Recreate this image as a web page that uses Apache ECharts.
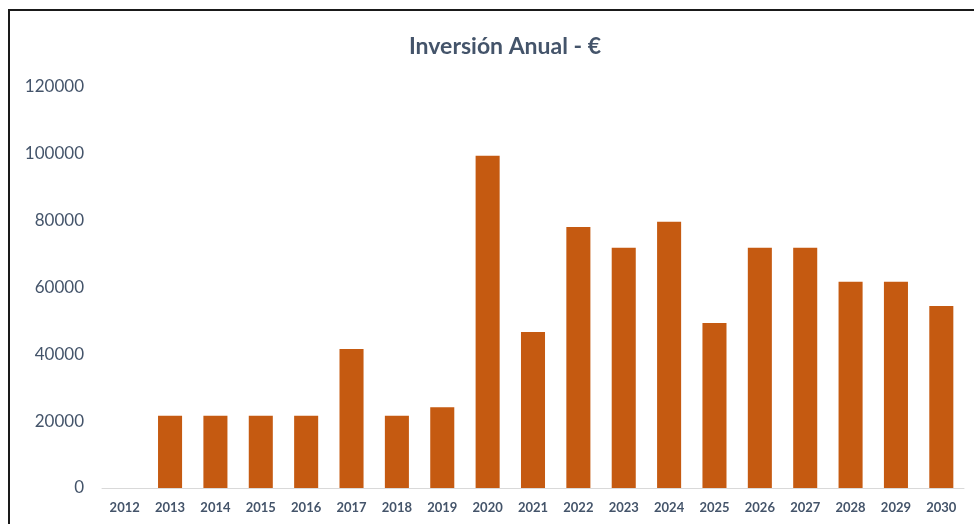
<!DOCTYPE html>
<html>
<head>
<meta charset="utf-8">
<script src="https://cdn.jsdelivr.net/npm/echarts@6/dist/echarts.min.js"></script>
<style>
  html, body { margin: 0; padding: 0; background: #fff; }
  #chart { width: 974px; height: 524px; }
</style>
</head>
<body>
<div id="chart"></div>
<script>
const years = ['2012', '2013', '2014', '2015', '2016', '2017', '2018', '2019', '2020', '2021',
  '2022', '2023', '2024', '2025', '2026', '2027', '2028', '2029', '2030']
const investment = [0, 21600, 21600, 21600, 21600, 41600, 21600, 24200, 99400, 46700,
  78100, 71900, 79700, 49400, 71900, 71900, 61700, 61700, 54500]
const yTicks = { min: 0, max: 120000, interval: 20000 }

const textColor = '#44546A'
const font = 'Lato, "Open Sans", sans-serif'

const chart = echarts.init(document.getElementById('chart'))

chart.setOption({
  animation: false,
  title: {
    text: 'Inversión Anual - €',
    left: 500,
    top: 30,
    textAlign: 'center',
    textStyle: { fontSize: 23, fontWeight: 'bold', color: textColor, fontFamily: font },
  },
  graphic: [
    {
      type: 'polyline',
      shape: { points: [[9, 524], [9, 10], [974, 10]] },
      style: { stroke: '#1a1a1a', lineWidth: 2, fill: null },
    },
  ],
  grid: { left: 102, right: 10, top: 87, bottom: 36 },
  xAxis: {
    type: 'category',
    data: years,
    axisTick: { show: false },
    axisLine: { lineStyle: { color: '#D9D9D9', width: 1 } },
    axisLabel: {
      color: textColor,
      fontSize: 13,
      fontWeight: 'bold',
      fontFamily: font,
      margin: 13,
    },
  },
  yAxis: {
    type: 'value',
    min: yTicks.min,
    max: yTicks.max,
    interval: yTicks.interval,
    splitLine: { show: false },
    axisLine: { show: false },
    axisTick: { show: false },
    axisLabel: {
      color: textColor,
      fontSize: 17,
      fontFamily: font,
      margin: 18,
      formatter: (v) => String(v),
    },
  },
  series: [
    {
      type: 'bar',
      data: investment,
      barWidth: '53%',
      itemStyle: { color: '#C55A11' },
    },
  ],
})
</script>
</body>
</html>
